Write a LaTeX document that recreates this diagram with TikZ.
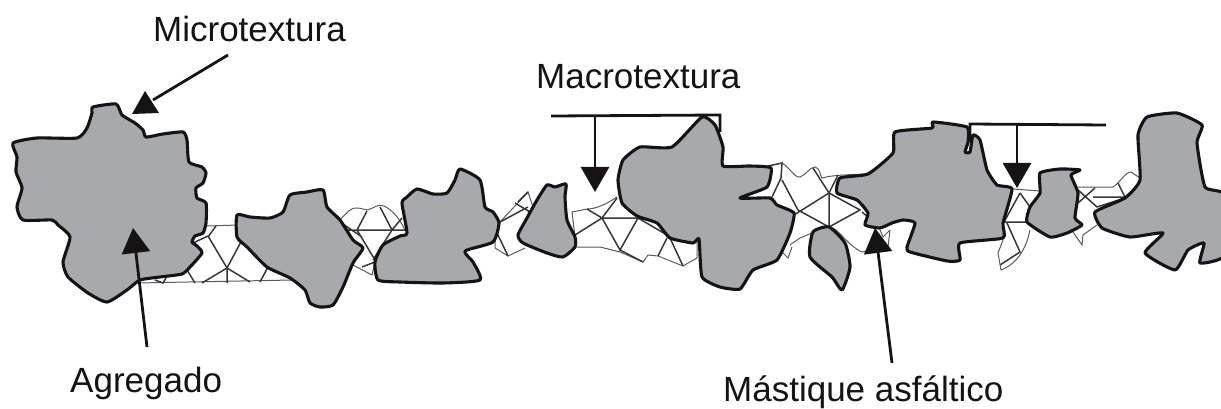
\documentclass[tikz,border=0pt]{standalone}
\usepackage{fontspec}
\setmainfont{Liberation Sans}
\usepackage{xcolor}
\usetikzlibrary{arrows.meta, calc, positioning}
\definecolor{agregadogris}{HTML}{A7A9AC}
\definecolor{negro}{HTML}{151314}
\tikzset{
  agregado/.style={draw=negro, fill=agregadogris, line width=3.1pt, line join=round},
  malla/.style={draw=negro!85, line width=1.5pt},
  borde/.style={draw=negro!70, line width=1pt},
  leader/.style={draw=negro, line width=2.8pt},
  flecha/.style={leader, -{Triangle[width=28pt,length=25pt]}},
  rotulo/.style={font=\fontsize{35}{38}\selectfont, text=negro, inner sep=0pt}
}
\begin{document}
\begin{tikzpicture}[x=1pt, y=-1pt]
    \useasboundingbox (0,0) rectangle (1221,409);

    % mastique
    \draw[borde] (207,226) -- (238,225) (137,283) -- (293,280);
    \draw[malla] (216,226) -- (208,237) (193,243) -- (208,236) -- (227,268) -- (242,240)
        (227,268) -- (202,283) (227,268) -- (227,283) (227,268) -- (250,282)
        (268,267) -- (260,282) (187,270) -- (195,283) (155,280) -- (163,283) -- (166,278);
    \draw[borde] (340,220) .. controls (347,212) and (352,207) .. (357,208) .. controls (362,208) and (364,210) .. (367,210)
        .. controls (373,209) and (378,203) .. (384,206) .. controls (390,209) and (398,215) .. (405,230);
    \draw[malla] (340,222) -- (362,237) (367,211) -- (357,230) (347,230) -- (405,230) (380,207) -- (392,230) -- (373,260)
        (357,230) -- (375,260) (392,230) -- (402,218);
    \draw[borde] (353,265) -- (372,275) -- (375,262);
    \draw[malla] (362,267) -- (375,262);
    \draw[borde] (500,222) -- (528,192) -- (533,207) -- (528,213);
    \draw[malla] (500,222) -- (528,207) (515,203) -- (530,212) (518,202) -- (528,192);
    \draw[borde] (495,233) -- (495,248) -- (508,256) -- (525,248);
    \draw[malla] (497,233) -- (508,256);
    \draw[borde] (575,237) -- (572,212) -- (587,209) .. controls (595,209) and (605,205) .. (617,197);
    \draw[borde] (577,247) -- (600,247) -- (620,252) -- (643,262) -- (648,255) -- (658,256) -- (683,266) -- (697,258) -- (697,242);
    \draw[malla] (575,235) -- (602,218) -- (587,209) (602,218) -- (617,198) (602,218) -- (638,218) (602,218) -- (620,250) -- (638,218)
        (620,250) -- (643,262) (638,218) -- (667,235) (667,238) -- (658,256) (670,238) -- (683,266);
    \draw[malla] (768,166) -- (782,163) -- (781,178) -- (772,197) (782,180) -- (798,210) (794,215) -- (829,193) (798,210) -- (829,227);
    \draw[borde] (782,163) .. controls (790,168) and (795,178) .. (800,177) .. controls (806,175) and (810,167) .. (815,167)
        .. controls (820,168) and (820,175) .. (822,178) .. controls (830,176) and (835,175) .. (868,174);
    \draw[borde] (790,245) -- (800,238) -- (812,233) (783,253) -- (788,258) -- (792,247);
    \draw[malla] (829,193) -- (860,210) -- (829,227) -- (829,193) (829,193) -- (838,175) (829,193) -- (813,168) (862,212) -- (868,217);
    \draw[borde] (833,228) .. controls (840,232) and (850,247) .. (862,252) -- (888,247) -- (890,230) (880,230) -- (883,237) -- (890,230);
    \draw[borde] (1013,189) -- (1040,191);
    \draw[malla] (1020,193) -- (1004,222) (1020,193) -- (1030,207) (1005,222) -- (1027,222) (1007,223) -- (1020,252) -- (1000,265);
    \draw[borde] (1003,240) -- (998,253) -- (1001,270) .. controls (1012,266) and (1025,255) .. (1030,230);
    \draw[borde] (1078,187) -- (1113,187) .. controls (1120,183) and (1125,172) .. (1131,172) -- (1140,178);
    \draw[malla] (1078,203) -- (1095,188) (1078,190) -- (1097,207) (1093,197) -- (1128,197) (1097,207) -- (1128,197) (1118,183) -- (1125,197);
    \draw[borde] (1073,232) -- (1082,245) -- (1083,235) -- (1097,225);

    % agregados
    \path[agregado] plot[smooth cycle, tension=0.35] coordinates {(93,107) (116,104) (122,115) (135,123) (143,130) (146,137) (163,134) (183,132) (187,140) (189,162) (202,167) (206,173) (203,183) (196,188) (197,198) (206,203) (206,223) (203,233) (195,236) (192,242) (197,246) (202,253) (190,267) (182,274) (160,277) (140,280) (127,290) (107,302) (88,293) (68,277) (63,262) (70,237) (58,225) (52,220) (23,220) (17,207) (22,188) (16,172) (17,157) (13,143) (37,138) (77,138) (87,128) (92,113)};
    \path[agregado] plot[smooth cycle, tension=0.35] coordinates {(237,215) (250,217) (270,218) (283,212) (290,195) (307,192) (323,190) (327,207) (340,220) (353,240) (363,248) (353,263) (343,287) (333,305) (320,307) (310,303) (305,290) (290,278) (267,267) (247,247) (237,237)};
    \path[agregado] plot[smooth cycle, tension=0.35] coordinates {(378,280) (375,262) (383,245) (400,236) (407,233) (402,203) (407,197) (417,189) (433,194) (447,193) (455,180) (460,169) (480,180) (485,207) (493,212) (499,223) (493,242) (465,251) (473,262) (480,280) (443,283) (400,282)};
    \path[agregado] plot[smooth cycle, tension=0.35] coordinates {(547,185) (555,187) (566,184) (565,197) (567,220) (575,237) (575,247) (563,257) (547,253) (523,243) (518,235) (527,218) (537,200)};
    \path[agregado] plot[smooth cycle, tension=0.3] coordinates {(702,117) (715,125) (723,147) (723,166) (750,166) (771,168) (767,187) (740,198) (770,198) (777,205) (794,213) (790,233) (777,260) (753,270) (740,289) (720,287) (702,277) (699,239) (693,243) (670,238) (657,223) (637,216) (622,203) (618,180) (623,160) (640,147) (672,147)};
    \path[agregado] plot[smooth cycle, tension=0.3] coordinates {(933,122) (967,127) (968,142) (965,152) (970,152) (973,135) (980,140) (987,170) (997,185) (1012,189) (1003,223) (1003,238) (960,243) (960,260) (947,261) (910,252) (907,247) (915,223) (903,220) (892,223) (880,228) (865,225) (868,213) (857,200) (837,193) (840,178) (868,174) (893,153) (895,132) (932,128)};
    \path[agregado] plot[smooth cycle, tension=0.35] coordinates {(813,232) (829,227) (845,243) (850,267) (842,290) (832,277) (810,257)};
    \path[agregado] plot[smooth cycle, tension=0.3] coordinates {(1040,173) (1060,169) (1080,170) (1071,175) (1078,193) (1075,218) (1082,225) (1067,233) (1050,237) (1027,222) (1030,207) (1040,193)};
    \path[agregado] plot[smooth cycle, tension=0.3] coordinates {(1147,117) (1177,113) (1202,125) (1197,143) (1205,187) (1225,195) (1225,255) (1200,263) (1204,243) (1188,250) (1175,270) (1145,253) (1163,233) (1130,237) (1102,228) (1095,212) (1125,198) (1140,180) (1138,135)};

    % rotulos
    \node[rotulo, anchor=base west] (micro) at (153,42) {Microtextura};
    \node[rotulo, anchor=base west] (macro) at (536,89) {Macrotextura};
    \node[rotulo, anchor=base west] (agreg) at (70,392) {Agregado};
    \node[rotulo, anchor=base west] (mastique) at (723,401) {Mástique asfáltico};

    % flechas
    \coordinate (microini) at (228,55);
    \coordinate (microfin) at (153,100);
    \draw[leader] (microini) -- (microfin);
    \fill[negro] (145,91) -- (159,113) -- (132,114) -- cycle;
    \coordinate (agregfin) at (133,228);
    \coordinate (agregini) at (147,347);
    \draw[flecha] (agregini) -- (agregfin);
    \coordinate (mastfin) at (875,228);
    \coordinate (mastini) at (892,363);
    \draw[flecha] (mastini) -- (mastfin);

    % cotas
    \coordinate (m1a) at (551,116);
    \coordinate (m1b) at (720,115);
    \coordinate (m1c) at (720,132);
    \coordinate (m1t) at (595,116);
    \coordinate (m1f) at (595,192);
    \draw[leader] (m1a) -- (m1b) -- (m1c);
    \draw[flecha] (m1t) -- (m1f);
    \coordinate (m2a) at (970,142);
    \coordinate (m2b) at (970,124);
    \coordinate (m2c) at (1106,125);
    \coordinate (m2t) at (1017,125);
    \coordinate (m2f) at (1017,188);
    \draw[leader] (m2a) -- (m2b) -- (m2c);
    \draw[flecha] (m2t) -- (m2f);
\end{tikzpicture}
\end{document}
